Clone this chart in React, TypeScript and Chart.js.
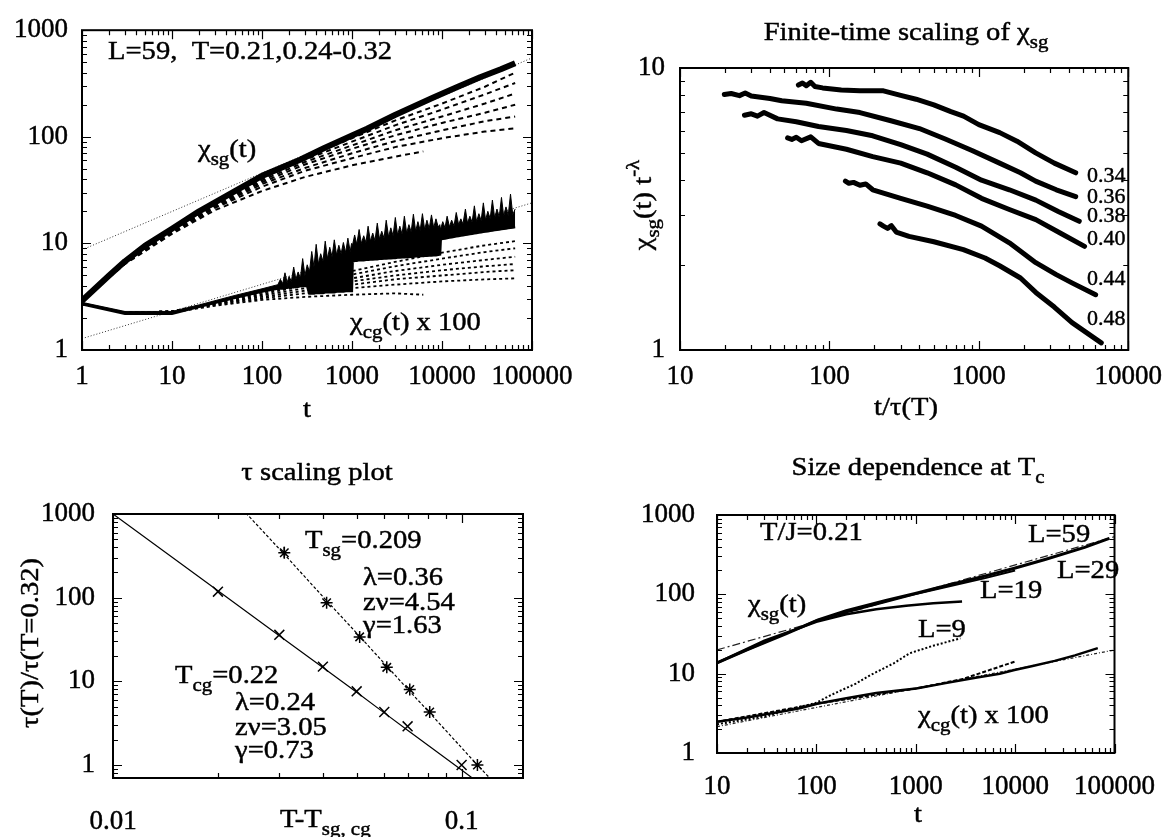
import React, { useEffect, useRef } from "react";
import { Chart, registerables } from "chart.js";

Chart.register(...registerables);

const FONT = "'Liberation Serif', 'Times New Roman', Times, serif";
const TICK_FONT = 27;
const TXT = 26;
const SX = 1.1;

// ================= Panel 1 (top-left): L=59 time evolution =================
const P1_X_TICKS = [1, 10, 100, 1000, 10000, 100000];
const P1_Y_TICKS = [1, 10, 100, 1000];
// chi_sg(t), T=0.21 (thick)
const P1_SG_T = [1, 2, 3, 5, 10, 20, 50, 100, 265, 500, 1000, 1470, 3000, 7900, 15000, 26500, 45000, 65000];
const P1_SG_021 = [2.9, 5.0, 6.8, 9.5, 13.7, 20, 31, 43, 61, 79, 103, 119, 160, 232, 295, 362, 430, 490];
// other temperatures (dashed)
const P1_DASH_T = [1, 3, 10, 30, 100, 300, 1000, 3000, 10000, 30000, 65000];
const P1_SHORT_T = [1, 3, 10, 30, 100, 300, 1000, 3000, 6200];
const P1_SG_024 = [2.9, 6.7, 13.4, 24, 42, 64, 97, 142, 205, 295, 400];
const P1_SG_025 = [2.9, 6.7, 13.3, 23.5, 40.5, 61, 90, 128, 180, 250, 320];
const P1_SG_026 = [2.9, 6.6, 13.1, 23, 39, 58, 83, 115, 155, 205, 255];
const P1_SG_027 = [2.9, 6.6, 13.0, 22.5, 37.5, 55, 77, 103, 135, 168, 200];
const P1_SG_028 = [2.9, 6.5, 12.8, 22, 36, 51, 70, 91, 115, 140, 155];
const P1_SG_029 = [2.9, 6.5, 12.6, 21.5, 34, 48, 63, 80, 97, 112, 120];
const P1_SG_032 = [2.9, 6.4, 12.3, 20.5, 31, 42, 54, 65, 73];
const P1_CG_024 = [2.7, 2.25, 2.3, 2.8, 3.5, 4.4, 5.5, 6.7, 8.2, 9.6, 10.5];
const P1_CG_025 = [2.7, 2.25, 2.3, 2.8, 3.45, 4.2, 5.1, 6.1, 7.2, 8.3, 9.0];
const P1_CG_026 = [2.7, 2.25, 2.3, 2.75, 3.35, 4.0, 4.7, 5.5, 6.3, 7.0, 7.5];
const P1_CG_027 = [2.7, 2.25, 2.3, 2.7, 3.25, 3.8, 4.4, 5.0, 5.6, 6.1, 6.4];
const P1_CG_028 = [2.7, 2.25, 2.3, 2.7, 3.15, 3.6, 4.1, 4.6, 5.0, 5.4, 5.6];
const P1_CG_029 = [2.7, 2.25, 2.25, 2.65, 3.05, 3.4, 3.8, 4.1, 4.4, 4.6, 4.7];
const P1_CG_032 = [2.7, 2.25, 2.25, 2.6, 2.95, 3.15, 3.3, 3.4, 3.3];
// chi_cg(t) x 100 at T=0.21: noisy band (lower / upper envelope)
const P1_CG_BAND_T = [1, 3, 10, 20, 50, 100,
  150, 160, 170, 180, 190, 200, 212, 225, 238, 252, 267, 283, 300, 318,
  337, 357, 378, 400, 424, 449, 476, 504, 534, 566, 600, 636, 674, 714, 757, 802, 850, 900, 954, 990,
  1010, 1070, 1130, 1200, 1270, 1350, 1430, 1510, 1600, 1700, 1800, 1910, 2020, 2140, 2270, 2400, 2550, 2700, 2860, 3030,
  3210, 3400, 3600, 3820, 4050, 4290, 4540, 4810, 5100, 5400, 5720, 6060, 6420, 6800, 7210, 7640, 8090, 8570, 9080, 9450,
  9620, 10200, 10800, 11400, 12100, 12800, 13600, 14400, 15300, 16200, 17100, 18200, 19200, 20400, 21600, 22900, 24200, 25700, 27200, 28800,
  30500, 32300, 34300, 36300, 38500, 40800, 43200, 45800, 48500, 51400, 54400, 57700, 61100, 65000];
const P1_CG_LOW = [2.7, 2.2, 2.2, 2.55, 3.1, 3.55,
  3.8, 3.8, 3.8, 3.85, 3.85, 3.9, 3.9, 3.9, 3.95, 3.95, 4.0, 4.0, 4.0, 4.05,
  3.4, 3.4, 3.4, 3.45, 3.45, 3.45, 3.45, 3.5, 3.5, 3.5, 3.5, 3.5, 3.55, 3.55, 3.55, 3.55, 3.6, 3.6, 3.6, 3.6,
  6.8, 6.9, 6.9, 7.0, 7.0, 7.0, 7.05, 7.05, 7.1, 7.1, 7.15, 7.15, 7.2, 7.2, 7.25, 7.25, 7.3, 7.3, 7.35, 7.35,
  7.4, 7.4, 7.45, 7.45, 7.5, 7.5, 7.55, 7.55, 7.6, 7.6, 7.65, 7.65, 7.7, 7.7, 7.75, 7.75, 7.8, 7.8, 7.85, 7.9,
  11.0, 11.1, 11.2, 11.3, 11.4, 11.5, 11.6, 11.7, 11.8, 11.9, 12.0, 12.1, 12.2, 12.3, 12.4, 12.5, 12.6, 12.7, 12.8, 12.9,
  13.0, 13.1, 13.2, 13.3, 13.4, 13.5, 13.6, 13.7, 13.8, 13.9, 14.0, 14.1, 14.2, 14.3];
const P1_CG_HIGH = [2.8, 2.3, 2.3, 2.65, 3.25, 3.75,
  4.1, 4.6, 4.2, 5.3, 4.3, 4.9, 4.4, 6.0, 4.6, 5.4, 4.7, 7.2, 5.0, 6.3,
  5.4, 8.4, 6.0, 9.8, 6.4, 8.0, 6.8, 10.5, 7.2, 9.2, 7.5, 10.8, 7.8, 9.6, 8.0, 10.2, 8.2, 11.2, 8.4, 10.0,
  9.5, 12.0, 9.8, 13.5, 10.0, 11.8, 10.2, 14.5, 10.5, 12.5, 10.6, 15.5, 11.0, 13.0, 11.2, 16.5, 11.5, 14.0, 11.8, 17.5,
  12.0, 14.5, 12.2, 18.0, 12.5, 15.0, 12.8, 18.8, 13.0, 16.0, 13.2, 19.0, 13.5, 16.5, 13.8, 18.5, 14.0, 17.0, 14.2, 15.0,
  13.5, 16.0, 14.0, 18.0, 14.3, 16.5, 14.6, 19.5, 15.0, 17.0, 15.2, 21.0, 15.5, 18.0, 15.8, 22.5, 16.0, 19.0, 16.3, 24.0,
  16.6, 20.0, 17.0, 25.5, 17.3, 21.0, 17.6, 27.0, 18.0, 22.0, 18.3, 29.0, 18.6, 21.0];
// power-law fits (dotted)
const P1_FIT_T = [1, 100000];
const P1_SG_FIT = [8.7, 550];
const P1_CG_FIT = [1.28, 24];

// ================= Panel 2 (top-right): finite-time scaling =================
const P2_X_TICKS = [10, 100, 1000, 10000];
const P2_Y_TICKS = [1, 10];
const P2_LABELS = ["0.34", "0.36", "0.38", "0.40", "0.44", "0.48"];
const P2_X_034 = [62, 66, 70, 75, 80, 90, 120, 160, 230, 300, 380, 500, 650, 790, 1000, 1380, 1800, 2400, 3200, 4450];
const P2_Y_034 = [8.7, 8.85, 8.65, 8.9, 8.6, 8.5, 8.35, 8.3, 8.3, 8.0, 7.75, 7.4, 7.0, 6.75, 6.3, 5.9, 5.5, 5.0, 4.6, 4.25];
const P2_X_036 = [19.8, 22, 25, 27.3, 30, 40, 48, 70, 112, 160, 258, 400, 596, 900, 1377, 1900, 2400, 3300, 4450];
const P2_Y_036 = [8.05, 8.12, 7.98, 8.15, 7.95, 7.8, 7.65, 7.5, 7.15, 6.95, 6.5, 6.1, 5.6, 5.1, 4.6, 4.25, 3.97, 3.7, 3.5];
const P2_X_038 = [27, 30, 33, 36.5, 45, 60, 84.5, 130, 195, 300, 451, 700, 1042, 1600, 2406, 3400, 4700];
const P2_Y_038 = [6.8, 6.88, 6.75, 6.95, 6.6, 6.45, 6.2, 6.0, 5.75, 5.35, 4.95, 4.45, 4.0, 3.7, 3.4, 3.1, 2.86];
const P2_X_040 = [52.5, 56, 60, 65, 75, 84.5, 130, 195, 300, 451, 700, 1042, 1600, 2406, 3500, 5100];
const P2_Y_040 = [5.65, 5.58, 5.68, 5.52, 5.7, 5.4, 5.15, 4.85, 4.6, 4.25, 3.85, 3.45, 3.15, 2.9, 2.6, 2.33];
const P2_X_044 = [128, 135, 145, 160, 175, 195, 300, 451, 700, 1042, 1600, 2406, 3300, 4200, 6050];
const P2_Y_044 = [3.97, 3.9, 3.93, 3.84, 3.88, 3.7, 3.45, 3.24, 3.0, 2.75, 2.4, 2.04, 1.85, 1.73, 1.57];
const P2_X_048 = [218, 230, 245, 260, 280, 341, 500, 788, 1100, 1377, 1900, 2406, 3200, 4207, 6600];
const P2_Y_048 = [2.8, 2.75, 2.7, 2.76, 2.62, 2.53, 2.42, 2.27, 2.12, 1.99, 1.8, 1.6, 1.42, 1.25, 1.06];

// ================= Panel 3 (bottom-left): tau scaling =================
const P3_X_TICKS = [0.01, 0.1];
const P3_Y_TICKS = [1, 10, 100, 1000];
const P3_SG_X = [0.031, 0.041, 0.051, 0.061, 0.071, 0.081, 0.111];
const P3_SG_Y = [345, 87, 34, 14.7, 8.0, 4.3, 1.0];
const P3_SG_ERR_X = [0.031, 0.031];
const P3_SG_ERR_Y = [300, 405];
const P3_CG_X = [0.02, 0.03, 0.04, 0.05, 0.06, 0.07, 0.1];
const P3_CG_Y = [118, 36, 15, 7.6, 4.3, 2.9, 1.0];
const P3_SG_FIT_X = [0.0215, 0.031, 0.041, 0.051, 0.061, 0.071, 0.081, 0.111, 0.13];
const P3_SG_FIT_Y = [1700, 330, 92, 34.5, 15.2, 7.6, 4.2, 1.0, 0.5];
const P3_CG_FIT_X = [0.01, 0.02, 0.03, 0.04, 0.05, 0.06, 0.07, 0.1, 0.15];
const P3_CG_FIT_Y = [1000, 121, 35, 14.6, 7.4, 4.2, 2.6, 0.87, 0.25];

// ================= Panel 4 (bottom-right): size dependence at Tc =================
const P4_X_TICKS = [10, 100, 1000, 10000, 100000];
const P4_Y_TICKS = [1, 10, 100, 1000];
const P4_SG59_X = [10, 20, 50, 104, 200, 500, 1011, 2000, 5000, 9840, 20000, 50000, 88700];
const P4_SG59_Y = [13.7, 20, 32, 47.5, 62, 84, 103, 128, 170, 213, 275, 390, 508];
const P4_SG29_X = [10, 100, 1000, 5000, 10000];
const P4_SG29_Y = [13.7, 47, 101, 160, 200];
const P4_SG19_X = [10, 30, 100, 200, 400, 800, 1500, 2924];
const P4_SG19_Y = [13.7, 26, 45, 56, 65, 72, 77, 81];
const P4_SG_FIT_X = [10, 100000];
const P4_SG_FIT_Y = [19.9, 533];
const P4_CG59_X = [10, 20, 30, 50, 70, 104, 200, 400, 700, 1011, 2000, 4000, 7000, 9840, 15000, 25000, 40000, 67900];
const P4_CG59_Y = [2.48, 2.8, 3.05, 3.4, 3.7, 4.2, 4.9, 5.7, 6.2, 6.5, 7.6, 8.9, 10.0, 11.1, 12.5, 14.5, 17, 21];
const P4_CG29_X = [10, 104, 1011, 3000, 6000, 10000];
const P4_CG29_Y = [2.48, 4.2, 6.5, 8.6, 11.5, 14.2];
const P4_CG9_X = [10, 30, 56.7, 100, 141, 250, 350, 600, 869, 1500, 2812];
const P4_CG9_Y = [2.3, 2.9, 3.6, 4.3, 5.4, 7.5, 9.6, 13.5, 18.1, 22.5, 27.9];
const P4_CG_FIT_X = [10, 100000];
const P4_CG_FIT_Y = [2.15, 19.9];

// ================= helpers =================
type Seg = [string, number?];

function drawRich(ctx: CanvasRenderingContext2D, segs: Seg[], x: number, y: number, size: number, opts: any = {}) {
  const align = opts.align || "left";
  const sx = opts.sx ?? SX;
  ctx.save();
  ctx.translate(x, y);
  if (opts.rot) ctx.rotate(opts.rot);
  ctx.scale(sx, 1);
  ctx.textBaseline = "alphabetic";
  ctx.textAlign = "left";
  ctx.fillStyle = "#000";
  ctx.strokeStyle = "#000";
  ctx.lineWidth = 0.45;
  const fontOf = (m: number) => `${m ? Math.round(size * 0.72) : size}px ${FONT}`;
  let w = 0;
  for (const [t, m = 0] of segs) {
    ctx.font = fontOf(m);
    w += ctx.measureText(t).width;
  }
  let cx = align === "center" ? -w / 2 : align === "right" ? -w : 0;
  for (const [t, m = 0] of segs) {
    ctx.font = fontOf(m);
    const dy = m === 1 ? size * 0.3 : m === 2 ? -size * 0.45 : 0;
    ctx.fillText(t, cx, dy);
    ctx.strokeText(t, cx, dy);
    cx += ctx.measureText(t).width;
  }
  ctx.restore();
}

function logTicks(min: number, max: number): [number, boolean][] {
  const out: [number, boolean][] = [];
  for (let e = Math.floor(Math.log10(min)) - 1; e <= Math.ceil(Math.log10(max)); e++) {
    for (let k = 1; k < 10; k++) {
      const v = k * Math.pow(10, e);
      if (v >= min * 0.9999 && v <= max * 1.0001) out.push([v, k === 1]);
    }
  }
  return out;
}

function framePlugin(draw: (ctx: CanvasRenderingContext2D, chart: any) => void) {
  return {
    id: "gpFrame",
    afterDraw(chart: any) {
      const { ctx, chartArea: a } = chart;
      const xs = chart.scales.x;
      const ys = chart.scales.y;
      ctx.save();
      ctx.strokeStyle = "#000";
      ctx.lineWidth = 1.2;
      ctx.beginPath();
      for (const [v, major] of logTicks(xs.min, xs.max)) {
        const px = Math.round(xs.getPixelForValue(v)) + 0.5;
        const L = major ? 9 : 5;
        ctx.moveTo(px, a.bottom);
        ctx.lineTo(px, a.bottom - L);
        ctx.moveTo(px, a.top);
        ctx.lineTo(px, a.top + L);
      }
      for (const [v, major] of logTicks(ys.min, ys.max)) {
        const py = Math.round(ys.getPixelForValue(v)) + 0.5;
        const L = major ? 9 : 5;
        ctx.moveTo(a.left, py);
        ctx.lineTo(a.left + L, py);
        ctx.moveTo(a.right, py);
        ctx.lineTo(a.right - L, py);
      }
      ctx.stroke();
      ctx.lineWidth = 2;
      ctx.strokeRect(a.left, a.top, a.right - a.left, a.bottom - a.top);
      draw(ctx, chart);
      ctx.restore();
    },
  };
}

function pts(xs: number[], ys: number[]) {
  return xs.map((x, i) => ({ x, y: ys[i] }));
}

function line(xs: number[], ys: number[], opts: any = {}) {
  return {
    data: pts(xs, ys),
    borderColor: "#000",
    backgroundColor: "#000",
    pointRadius: 0,
    borderWidth: 1,
    tension: 0,
    fill: false,
    ...opts,
  };
}

function axis(min: number, max: number, ticks: number[], pad: number, pos: string, size: number) {
  return {
    type: "logarithmic",
    position: pos,
    min,
    max,
    grid: { display: false, drawTicks: false },
    border: { display: false },
    ticks: {
      autoSkip: false,
      maxRotation: 0,
      minRotation: 0,
      padding: pad,
      color: "#000",
      textStrokeColor: "#000",
      textStrokeWidth: 0.45,
      font: { family: FONT, size: TICK_FONT },
      callback: (v: any) => String(v),
    },
    afterBuildTicks: (s: any) => {
      s.ticks = ticks.map((v) => ({ value: v }));
    },
    afterFit: (s: any) => {
      if (pos === "left") s.width = size;
      else s.height = size;
    },
  };
}

function makeConfig(f: any, datasets: any[], draw: (ctx: CanvasRenderingContext2D, chart: any) => void) {
  return {
    type: "line",
    data: { datasets },
    options: {
      responsive: false,
      animation: false,
      devicePixelRatio: 1,
      events: [],
      layout: { padding: { left: 0, top: f.top, right: f.right, bottom: 0 } },
      plugins: { legend: { display: false }, tooltip: { enabled: false }, title: { display: false } },
      scales: {
        x: axis(f.xMin, f.xMax, f.xTicks, f.xPad, "bottom", f.xH),
        y: axis(f.yMin, f.yMax, f.yTicks, f.yPad, "left", f.yW),
      },
    },
    plugins: [framePlugin(draw)],
  };
}

// ================= panel builders =================
function buildP1() {
  const dashS = { borderWidth: 2, borderDash: [5, 4], order: 5 };
  const dashC = { borderWidth: 1.8, borderDash: [3, 3], order: 5 };
  const fit = { borderWidth: 1, borderDash: [1, 2], order: 10, borderColor: "#333" };
  const ds = [
    line(P1_CG_BAND_T, P1_CG_LOW, { borderWidth: 3, order: 0 }),
    line(P1_CG_BAND_T, P1_CG_HIGH, { borderWidth: 1, fill: "-1", backgroundColor: "#000", order: 0 }),
    line(P1_SG_T, P1_SG_021, { borderWidth: 6, order: 0, borderJoinStyle: "round" }),
    line(P1_DASH_T, P1_SG_024, dashS),
    line(P1_DASH_T, P1_SG_025, dashS),
    line(P1_DASH_T, P1_SG_026, dashS),
    line(P1_DASH_T, P1_SG_027, dashS),
    line(P1_DASH_T, P1_SG_028, dashS),
    line(P1_DASH_T, P1_SG_029, dashS),
    line(P1_SHORT_T, P1_SG_032, dashS),
    line(P1_DASH_T, P1_CG_024, dashC),
    line(P1_DASH_T, P1_CG_025, dashC),
    line(P1_DASH_T, P1_CG_026, dashC),
    line(P1_DASH_T, P1_CG_027, dashC),
    line(P1_DASH_T, P1_CG_028, dashC),
    line(P1_DASH_T, P1_CG_029, dashC),
    line(P1_SHORT_T, P1_CG_032, dashC),
    line(P1_FIT_T, P1_SG_FIT, fit),
    line(P1_FIT_T, P1_CG_FIT, fit),
  ];
  const f = { xMin: 1, xMax: 100000, yMin: 1, yMax: 1000, xTicks: P1_X_TICKS, yTicks: P1_Y_TICKS, top: 25, right: 58, yW: 82, xH: 70, xPad: 11, yPad: 14 };
  return makeConfig(f, ds, (ctx) => {
    drawRich(ctx, [["L=59,  T=0.21,0.24-0.32"]], 108, 59, TXT);
    drawRich(ctx, [["χ"], ["sg", 1], ["(t)"]], 198, 157, TXT);
    drawRich(ctx, [["χ"], ["cg", 1], ["(t) x 100"]], 350, 330, TXT);
    drawRich(ctx, [["t"]], 307, 417, TXT, { align: "center" });
  });
}

function buildP2() {
  const st = { borderWidth: 5, borderJoinStyle: "round", borderCapStyle: "round" };
  const ds = [
    line(P2_X_034, P2_Y_034, st),
    line(P2_X_036, P2_Y_036, st),
    line(P2_X_038, P2_Y_038, st),
    line(P2_X_040, P2_Y_040, st),
    line(P2_X_044, P2_Y_044, st),
    line(P2_X_048, P2_Y_048, st),
  ];
  const f = { xMin: 10, xMax: 10000, yMin: 1, yMax: 10, xTicks: P2_X_TICKS, yTicks: P2_Y_TICKS, top: 68, right: 41, yW: 90, xH: 70, xPad: 11, yPad: 15 };
  const labelY = [182, 203, 222, 245, 285, 325];
  return makeConfig(f, ds, (ctx) => {
    drawRich(ctx, [["Finite-time scaling of χ"], ["sg", 1]], 316, 40, TXT, { align: "center" });
    drawRich(ctx, [["t/τ(T)"]], 316, 415, TXT, { align: "center" });
    drawRich(ctx, [["χ"], ["sg", 1], ["(t) t"], ["-λ", 2]], 61, 205, TXT, { align: "center", rot: -Math.PI / 2 });
    P2_LABELS.forEach((s, i) => drawRich(ctx, [[s]], 497, labelY[i], 22, { sx: 1 }));
  });
}

function buildP3() {
  const ds = [
    { data: pts(P3_SG_X, P3_SG_Y), showLine: false, pointStyle: "star", pointRadius: 6, pointBorderWidth: 1.5, borderColor: "#000", backgroundColor: "#000", order: 0 },
    { data: pts(P3_CG_X, P3_CG_Y), showLine: false, pointStyle: "crossRot", pointRadius: 7, pointBorderWidth: 1.5, borderColor: "#000", backgroundColor: "#000", order: 0 },
    line(P3_SG_ERR_X, P3_SG_ERR_Y, { borderWidth: 1.5, order: 0 }),
    line(P3_SG_FIT_X, P3_SG_FIT_Y, { borderWidth: 1.2, borderDash: [3, 2], order: 5 }),
    line(P3_CG_FIT_X, P3_CG_FIT_Y, { borderWidth: 1.2, order: 5 }),
  ];
  const f = { xMin: 0.01, xMax: 0.15, yMin: 0.7, yMax: 1000, xTicks: P3_X_TICKS, yTicks: P3_Y_TICKS, top: 94, right: 67, yW: 113, xH: 59, xPad: 28, yPad: 18 };
  return makeConfig(f, ds, (ctx) => {
    drawRich(ctx, [["τ scaling plot"]], 317, 60, TXT, { align: "center" });
    drawRich(ctx, [["T-T"], ["sg, cg", 1]], 280, 407, TXT);
    drawRich(ctx, [["τ(T)/τ(T=0.32)"]], 38, 223, TXT, { align: "center", rot: -Math.PI / 2 });
    drawRich(ctx, [["T"], ["sg", 1], ["=0.209"]], 305, 128, TXT);
    drawRich(ctx, [["λ=0.36"]], 363, 165, TXT);
    drawRich(ctx, [["zν=4.54"]], 363, 190, TXT);
    drawRich(ctx, [["γ=1.63"]], 363, 213, TXT);
    drawRich(ctx, [["T"], ["cg", 1], ["=0.22"]], 175, 263, TXT);
    drawRich(ctx, [["λ=0.24"]], 235, 290, TXT);
    drawRich(ctx, [["zν=3.05"]], 235, 315, TXT);
    drawRich(ctx, [["γ=0.73"]], 235, 338, TXT);
  });
}

function buildP4() {
  const ds = [
    line(P4_SG59_X, P4_SG59_Y, { borderWidth: 3, order: 0 }),
    line(P4_SG29_X, P4_SG29_Y, { borderWidth: 2, order: 1 }),
    line(P4_SG19_X, P4_SG19_Y, { borderWidth: 2.5, order: 1 }),
    line(P4_SG_FIT_X, P4_SG_FIT_Y, { borderWidth: 1.2, borderDash: [8, 3, 2, 3], borderColor: "#222", order: 5 }),
    line(P4_CG59_X, P4_CG59_Y, { borderWidth: 2.5, order: 0 }),
    line(P4_CG29_X, P4_CG29_Y, { borderWidth: 2, borderDash: [4, 2], order: 1 }),
    line(P4_CG9_X, P4_CG9_Y, { borderWidth: 2, borderDash: [2, 2], order: 1 }),
    line(P4_CG_FIT_X, P4_CG_FIT_Y, { borderWidth: 1.2, borderDash: [3, 2, 1, 2], borderColor: "#222", order: 5 }),
  ];
  const f = { xMin: 10, xMax: 100000, yMin: 1, yMax: 1000, xTicks: P4_X_TICKS, yTicks: P4_Y_TICKS, top: 95, right: 51, yW: 127, xH: 84, xPad: 18, yPad: 22 };
  return makeConfig(f, ds, (ctx) => {
    drawRich(ctx, [["Size dependence at T"], ["c", 1]], 328, 55, TXT, { align: "center" });
    drawRich(ctx, [["t"]], 328, 402, TXT, { align: "center" });
    drawRich(ctx, [["T/J=0.21"]], 170, 120, TXT);
    drawRich(ctx, [["L=59"]], 438, 122, TXT);
    drawRich(ctx, [["L=29"]], 467, 158, TXT);
    drawRich(ctx, [["L=19"]], 390, 178, TXT);
    drawRich(ctx, [["L=9"]], 328, 217, TXT);
    drawRich(ctx, [["χ"], ["sg", 1], ["(t)"]], 158, 192, TXT);
    drawRich(ctx, [["χ"], ["cg", 1], ["(t) x 100"]], 328, 303, TXT);
  });
}

function Panel({ x, y, w, h, build }: { x: number; y: number; w: number; h: number; build: () => any }) {
  const ref = useRef<HTMLCanvasElement>(null);
  useEffect(() => {
    const chart = new Chart(ref.current as HTMLCanvasElement, build());
    return () => chart.destroy();
  }, []);
  return (
    <canvas
      ref={ref}
      width={w}
      height={h}
      style={{ position: "absolute", left: x, top: y, width: w, height: h }}
    />
  );
}

export default function App() {
  return (
    <div style={{ position: "absolute", left: 0, top: 0, width: 1173, height: 837, background: "#fff", overflow: "hidden" }}>
      <Panel x={0} y={0} w={590} h={420} build={buildP1} />
      <Panel x={590} y={0} w={583} h={420} build={buildP2} />
      <Panel x={0} y={420} w={590} h={417} build={buildP3} />
      <Panel x={590} y={420} w={583} h={417} build={buildP4} />
    </div>
  );
}
